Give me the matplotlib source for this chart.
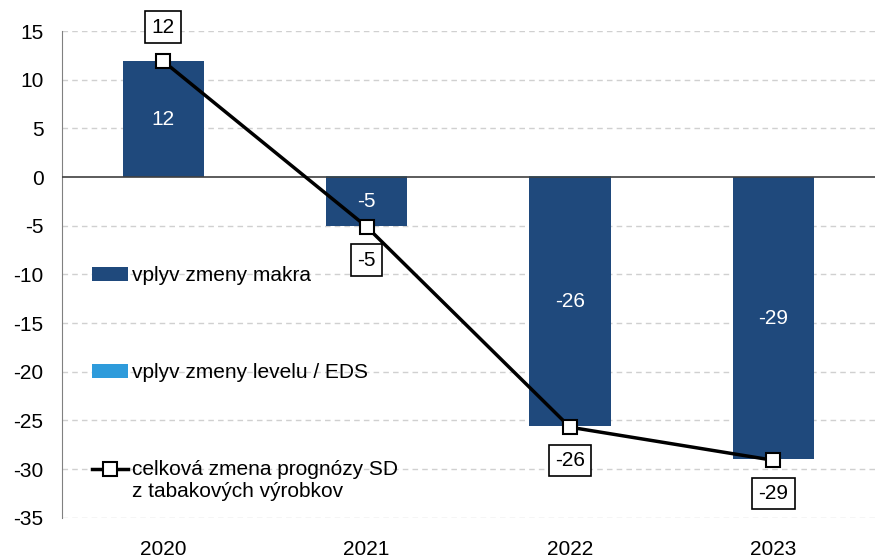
import matplotlib.pyplot as plt
import numpy as np

plt.rcParams['font.family'] = ['Liberation Sans', 'DejaVu Sans']
plt.rcParams['axes.unicode_minus'] = False

years = ['2020', '2021', '2022', '2023']
makro = [11.9, -5.05, -25.6, -29.0]
level = [0.0, 0.12, 0.12, 0.0]
total = [11.9, -5.1, -25.7, -29.1]
total_labels = ['12', '-5', '-26', '-29']
makro_labels = ['12', '-5', '-26', '-29']

dark = '#1F497C'
light = '#2E9BDB'
fs = 15

fig = plt.figure(figsize=(8.75, 5.58), dpi=100)
ax = fig.add_axes([0.0703, 0.0722, 0.9297, 0.8722])

x = np.arange(len(years))
w = 0.40

b1 = ax.bar(x, makro, w, color=dark, label='vplyv zmeny makra', zorder=2)
# level bars: positives from 0 up
lev_bottom = [0 if l >= 0 else min(m, 0) for m, l in zip(makro, level)]
b2 = ax.bar(x, level, w, bottom=lev_bottom, color=light,
            label='vplyv zmeny levelu / EDS', zorder=2)

ln, = ax.plot(x, total, color='black', lw=2.5, marker='s', markersize=10,
              markerfacecolor='white', markeredgecolor='black', markeredgewidth=1.5,
              label='celková zmena prognózy SD\nz tabakových výrobkov', zorder=4)

for i, v in enumerate(makro):
    ax.text(x[i], v / 2, makro_labels[i], color='white', fontsize=fs,
            ha='center', va='center', zorder=3)

for i, v in enumerate(total):
    off = 24.5 if i == 0 else -24
    ax.annotate(total_labels[i], (x[i], v), xytext=(0, off),
                textcoords='offset points', ha='center', va='center',
                fontsize=fs, zorder=5,
                bbox=dict(boxstyle='square,pad=0.3', fc='white', ec='black', lw=1.2))

ax.set_xlim(-0.5, 3.5)
ax.set_ylim(-35, 15)
ax.set_yticks(np.arange(-35, 16, 5))
ax.set_xticks(x)
ax.set_xticklabels(years)
ax.tick_params(length=0, labelsize=fs)
ax.tick_params(axis='y', pad=13)
ax.tick_params(axis='x', pad=16)

for yv in np.arange(-35, 16, 5):
    if yv != 0:
        ax.axhline(yv, color='#D0D0D0', lw=1, ls=(0, (4, 3)), zorder=0)
ax.axhline(0, color='#404040', lw=1.2, zorder=3)

for s in ['top', 'right', 'bottom']:
    ax.spines[s].set_visible(False)
ax.spines['left'].set_color('#808080')

leg = ax.legend([b1, b2, ln], [b1.get_label(), b2.get_label(), ln.get_label()],
                loc='upper left', bbox_to_anchor=(0.037, 0.517), frameon=False,
                fontsize=fs, labelspacing=3.75, handlelength=1.75,
                handletextpad=0.2, borderaxespad=0, borderpad=0)
# align the line handle with the first text line
hl = leg.legend_handles[2]
hl.set_ydata(np.asarray(hl.get_ydata()) + fs * 0.6)

fig.savefig('out.png', dpi=100)
